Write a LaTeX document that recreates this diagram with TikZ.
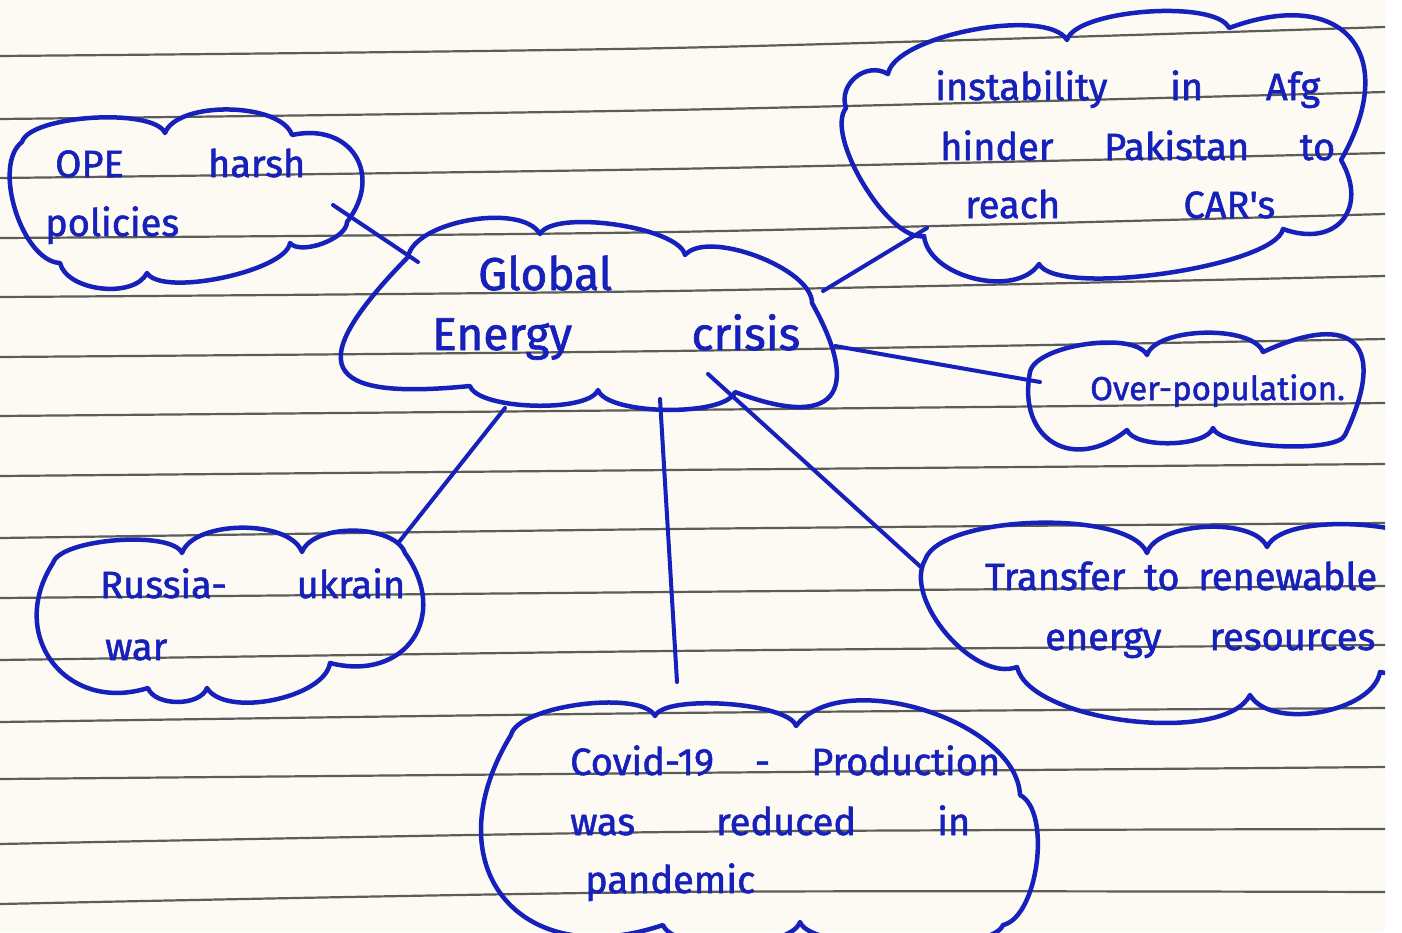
\documentclass[tikz,border=0pt]{standalone}
\usepackage{fontspec}
\setmainfont{Fira Sans}
\newfontfamily\inkfont{Fira Sans}[FakeBold=1.5]
\definecolor{paper}{RGB}{252,250,242}
\definecolor{ink}{RGB}{22,32,186}
\definecolor{rulegray}{RGB}{92,92,88}
\tikzset{
  cloud/.style={draw=ink, line width=4.5pt, line cap=round, line join=round},
  bp/.style={bend left=70, looseness=#1},
  link/.style={draw=ink, line width=4pt, line cap=round},
  rule/.style={draw=rulegray, line width=2.2pt},
  txt/.style={text=ink, inner sep=0pt, anchor=base west, font=\inkfont\fontsize{38}{44}\selectfont},
  bigtxt/.style={txt, font=\inkfont\fontsize{46}{52}\selectfont}
}
\begin{document}
\begin{tikzpicture}[x=1pt, y=-1pt]
\useasboundingbox (0,0) rectangle (1402,932);
\fill[white] (0,0) rectangle (1402,932);
\begin{scope}
\clip (0,0) rectangle (1385,932);
\fill[paper] (0,0) rectangle (1385,932);
% ruled notebook lines
\foreach \a/\b/\c in {56/48/27, 119/110/92, 178/169/153, 238/232/214, 297/291/276,
  357/351/339, 416/410/403, 476/470/464, 538/529/523, 598/592/586, 660/651/645,
  722/713/708, 779/773/767, 844/832/829, 904/892/892}
  \draw[rule] plot[smooth] coordinates {(0,\a) (670,\b) (1385,\c)};

% cloud outlines
\draw[cloud] (22,142) to[bp=.5] (165,133) to[bp=.7] (292,135) to[bp=1.5] (347,222)
  to[bp=.7] (290,243) to[bp=.5] (147,273) to[bp=.85] (60,263) to[bp=.77] (22,142) -- cycle;
\draw[cloud] (408,257) to[bp=.7] (540,234) to[bp=.5] (685,255) to[bp=.65] (812,303)
  to[bp=2.3] (735,392) to[bp=.5] (598,390) to[bp=.5] (470,386) to[bp=2.7] (408,257) -- cycle;
\draw[cloud] (888,74) to[bp=.55] (1067,40) to[bp=.5] (1229,28) to[bp=1.8] (1341,160)
  to[bp=1.6] (1283,229) to[bp=.4] (1039,264) to[bp=.9] (924,236) to[bp=.6] (846,108)
  to[bp=1.2] (888,74) -- cycle;
\draw[cloud] (1030,372) to[bp=.6] (1147,355) to[bp=.65] (1263,352) to[bp=2.2] (1345,435)
  to[bp=.4] (1213,428) to[bp=.6] (1127,430) to[bp=1.56] (1030,372) -- cycle;
\draw[cloud] (925,560) to[bp=.55] (1147,553) to[bp=.7] (1267,547) to[bp=.57] (1450,560)
  to[bp=1.4] (1380,672) to[bp=.8] (1250,695) to[bp=.62] (1017,667) to[bp=.82] (925,560) -- cycle;
\draw[cloud] (53,563) to[bp=.5] (182,553) to[bp=.75] (302,552) to[bp=.77] (405,553)
  to[bp=1.5] (330,663) to[bp=.72] (207,688) to[bp=.86] (148,688) to[bp=1.4] (53,563) -- cycle;
\draw[cloud] (511,735) to[bp=.53] (655,716) to[bp=.44] (796,726) to[bp=.82] (1020,795)
  to[bp=.7] (1003,925) to[bp=.4] (800,922) to[bp=.55] (663,925) to[bp=1.6] (511,735) -- cycle;

% labels
\node[txt] (ope1) at (55,177) {\makebox[250pt][s]{OPE harsh}};
\node[txt] (ope2) at (45,236) {policies};
\node[bigtxt] (gec1) at (478,290) {Global};
\node[bigtxt] (gec2) at (432,350) {\makebox[368pt][s]{Energy crisis}};
\node[txt] (ins1) at (935,100) {\makebox[385pt][s]{instability in Afg}};
\node[txt] (ins2) at (940,160) {\makebox[395pt][s]{hinder Pakistan to}};
\node[txt] (ins3) at (965,218) {\makebox[310pt][s]{reach CAR's}};
\node[txt, font=\inkfont\fontsize{33}{40}\selectfont] (pop1) at (1090,400) {Over-population.};
\node[txt] (trn1) at (985,590) {\makebox[392pt][s]{Transfer to renewable}};
\node[txt] (trn2) at (1045,650) {\makebox[330pt][s]{energy resources}};
\node[txt] (rus1) at (100,598) {\makebox[305pt][s]{Russia- ukrain}};
\node[txt] (rus2) at (105,660) {war};
\node[txt] (cov1) at (570,775) {\makebox[430pt][s]{Covid-19 - Production}};
\node[txt] (cov2) at (570,835) {\makebox[400pt][s]{was reduced in}};
\node[txt] (cov3) at (585,893) {pandemic};

% attachment points on the cloud outlines
\coordinate (ope-out) at (333,205);
\coordinate (gec-ope) at (418,262);
\coordinate (gec-ins) at (823,291);
\coordinate (ins-in) at (927,228);
\coordinate (gec-pop) at (835,346);
\coordinate (pop-in) at (1040,382);
\coordinate (gec-trn) at (708,374);
\coordinate (trn-in) at (922,568);
\coordinate (gec-cov) at (660,399);
\coordinate (cov-in) at (677,682);
\coordinate (gec-rus) at (505,408);
\coordinate (rus-in) at (399,542);

% connectors
\draw[link] (ope-out) -- (gec-ope);
\draw[link] (gec-ins) -- (ins-in);
\draw[link] (gec-pop) -- (pop-in);
\draw[link] (gec-trn) -- (trn-in);
\draw[link] (gec-cov) -- (cov-in);
\draw[link] (gec-rus) -- (rus-in);
\end{scope}
\end{tikzpicture}
\end{document}
